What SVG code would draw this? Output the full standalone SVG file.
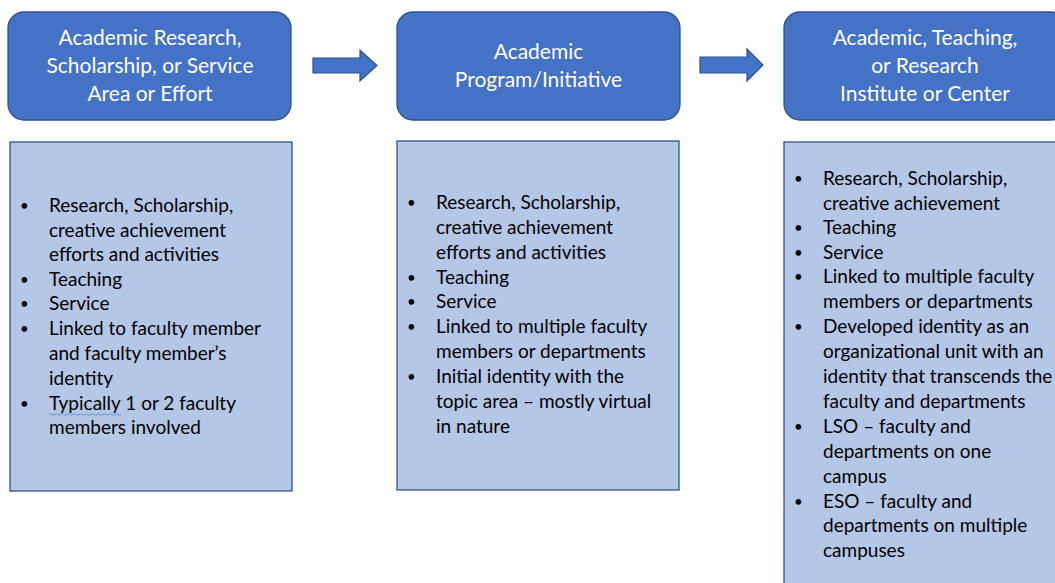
<svg xmlns="http://www.w3.org/2000/svg" width="1055" height="583" viewBox="0 0 1055 583">
<style>
.hdr{fill:#4472C4;stroke:#2F528F;stroke-width:1.3}
.ht{fill:#FFFFFF;font-family:Lato,"Open Sans",sans-serif;font-size:21px;text-anchor:middle}
.body{fill:#B4C7E7;stroke:#2F528F;stroke-width:1.3}
.bt{fill:#000000;font-family:Lato,"Open Sans",sans-serif;font-size:19px}
.bu{font-size:15px}
.arr{fill:#4472C4;stroke:#2F528F;stroke-width:1.2}
</style>
<rect width="1055" height="583" fill="#FFFFFF"/>
<g id="head1">
<rect class="hdr" x="8" y="12" width="283" height="108" rx="16"/>
<text class="ht" x="150" y="45">Academic Research,</text>
<text class="ht" x="150" y="73">Scholarship, or Service</text>
<text class="ht" x="150" y="101">Area or Effort</text>
</g>
<g id="head2">
<rect class="hdr" x="397" y="12" width="283" height="108" rx="16"/>
<text class="ht" x="538.5" y="59">Academic</text>
<text class="ht" x="538.5" y="87">Program/Initiative</text>
</g>
<g id="head3">
<rect class="hdr" x="784" y="12" width="283" height="108" rx="16"/>
<text class="ht" x="925" y="45">Academic, Teaching,</text>
<text class="ht" x="925" y="73">or Research</text>
<text class="ht" x="925" y="101">Institute or Center</text>
</g>
<g id="connectors">
<path class="arr" d="M313,58 H360 V50 L377,65.5 L360,81 V73 H313 Z"/>
<path class="arr" d="M700,57 H747 V49 L763,65 L747,81 V73 H700 Z"/>
</g>
<g id="body1">
<rect class="body" x="10" y="142" width="282" height="349"/>
<g class="bt">
<text class="bu" x="20" y="211">•</text><text x="49" y="212">Research, Scholarship,</text>
<text x="49" y="237">creative achievement</text>
<text x="49" y="261">efforts and activities</text>
<text class="bu" x="20" y="285">•</text><text x="49" y="286">Teaching</text>
<text class="bu" x="20" y="309">•</text><text x="49" y="310">Service</text>
<text class="bu" x="20" y="334">•</text><text x="49" y="335">Linked to faculty member</text>
<text x="49" y="360">and faculty member’s</text>
<text x="49" y="385">identity</text>
<text class="bu" x="20" y="409">•</text><text x="49" y="410">Typically 1 or 2 faculty</text>
<text x="49" y="434">members involved</text>
</g>
<path d="M49,414.5 q1.5,-1.5 3,0 t3,0 t3,0 t3,0 t3,0 t3,0 t3,0 t3,0 t3,0 t3,0 t3,0 t3,0 t3,0 t3,0 t3,0 t3,0 t3,0 t3,0 t3,0 t3,0 t3,0 t3,0 t3,0 t3,0" fill="none" stroke="#5B8BD8" stroke-width="0.9"/>
</g>
<g id="body2">
<rect class="body" x="397" y="141" width="282" height="349"/>
<g class="bt">
<text class="bu" x="407" y="208">•</text><text x="436" y="209">Research, Scholarship,</text>
<text x="436" y="234">creative achievement</text>
<text x="436" y="259">efforts and activities</text>
<text class="bu" x="407" y="283">•</text><text x="436" y="284">Teaching</text>
<text class="bu" x="407" y="307">•</text><text x="436" y="308">Service</text>
<text class="bu" x="407" y="332">•</text><text x="436" y="333">Linked to multiple faculty</text>
<text x="436" y="358">members or departments</text>
<text class="bu" x="407" y="382">•</text><text x="436" y="383">Initial identity with the</text>
<text x="436" y="408">topic area – mostly virtual</text>
<text x="436" y="433">in nature</text>
</g>
</g>
<g id="body3">
<rect class="body" x="784" y="142" width="283" height="460"/>
<g class="bt">
<text class="bu" x="794" y="184">•</text><text x="823" y="185">Research, Scholarship,</text>
<text x="823" y="210">creative achievement</text>
<text class="bu" x="794" y="233">•</text><text x="823" y="234">Teaching</text>
<text class="bu" x="794" y="258">•</text><text x="823" y="259">Service</text>
<text class="bu" x="794" y="282">•</text><text x="823" y="283">Linked to multiple faculty</text>
<text x="823" y="308">members or departments</text>
<text class="bu" x="794" y="332">•</text><text x="823" y="333">Developed identity as an</text>
<text x="823" y="358">organizational unit with an</text>
<text x="823" y="383">identity that transcends the</text>
<text x="823" y="408">faculty and departments</text>
<text class="bu" x="794" y="432">•</text><text x="823" y="433">LSO – faculty and</text>
<text x="823" y="458">departments on one</text>
<text x="823" y="483">campus</text>
<text class="bu" x="794" y="507">•</text><text x="823" y="508">ESO – faculty and</text>
<text x="823" y="532">departments on multiple</text>
<text x="823" y="557">campuses</text>
</g>
</g>
</svg>
